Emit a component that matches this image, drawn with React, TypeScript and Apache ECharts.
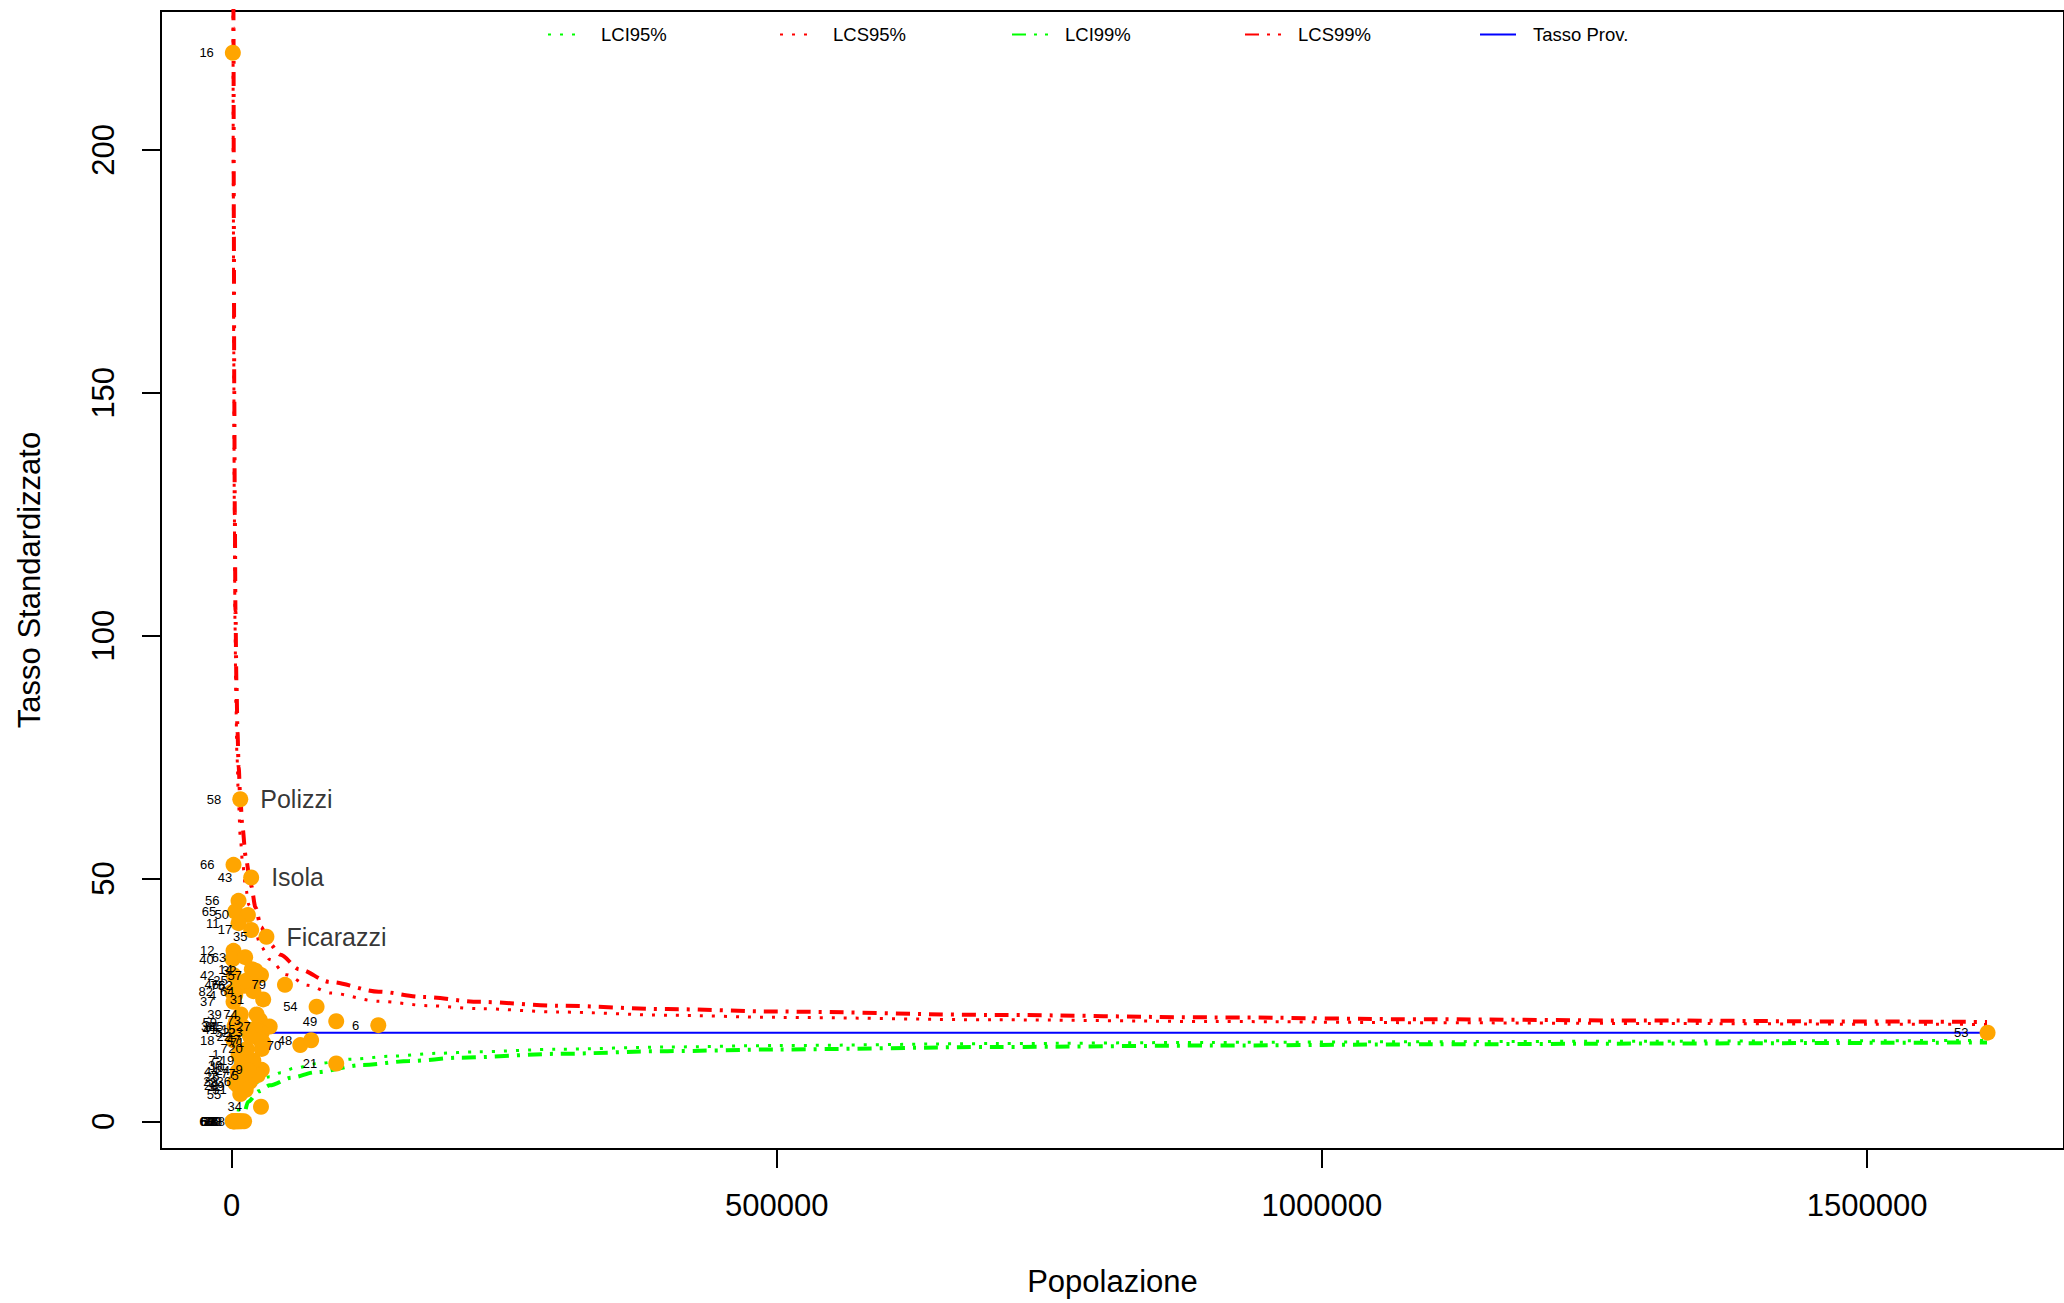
import { useEffect, useRef } from 'react';
import * as echarts from 'echarts';

const FONT = '"Liberation Sans", Arial, Helvetica, sans-serif';

// Comuni: id, popolazione, tasso standardizzato
const comuneId = [
  16, 58, 66, 43, 56, 65, 50, 11, 17, 35,
  12, 40, 63, 14, 57, 79, 42, 46, 75, 62,
  82, 4, 64, 31, 37, 54, 49, 6, 73, 27,
  59, 38, 81, 52, 23, 18, 71, 20, 7, 70,
  48, 21, 1, 72, 10, 9, 5, 36, 29, 69,
  55, 34, 53, 45, 41, 26, 44, 30, 2, 28,
  47, 15, 22, 74, 25, 32, 19, 77, 51, 24,
  39, 60, 61, 68, 67, 3, 13, 33, 76, 80,
  78, 8,
];
const popolazione = [
  1200, 8000, 1800, 18000, 6400, 3400, 15000, 6400, 18000, 32000,
  1800, 1000, 12500, 18600, 27000, 49000, 1800, 5800, 11500, 18600,
  300, 3400, 20000, 29000, 1800, 78000, 96000, 134600, 26000, 35000,
  4000, 2700, 6400, 15600, 27700, 1800, 29000, 27700, 14000, 63000,
  73000, 96000, 6400, 9500, 11000, 27700, 24000, 17000, 4800, 11000,
  8000, 27000, 1610500, 10000, 4000, 6400, 5500, 9000, 3000, 5500,
  26000, 21000, 17000, 23000, 14000, 22000, 20000, 21000, 13000, 16000,
  8500, 1000, 1500, 2000, 2500, 3000, 4000, 5000, 6000, 7500,
  9000, 11500,
];
const tassoStd = [
  220.0, 66.3, 52.8, 50.2, 45.4, 43.2, 42.5, 40.8, 39.4, 38.0,
  35.1, 33.4, 33.8, 31.3, 30.1, 28.1, 30.1, 28.1, 27.9, 27.9,
  26.7, 26.0, 26.8, 25.1, 24.6, 23.6, 20.6, 19.8, 20.8, 19.5,
  20.4, 19.5, 19.6, 18.3, 18.3, 16.7, 16.2, 14.9, 14.9, 15.7,
  16.7, 11.9, 13.7, 12.6, 11.1, 10.6, 9.5, 8.2, 8.2, 7.1,
  5.6, 3.0, 18.25, 19.6, 19.0, 9.2, 10.2, 11.4, 8.0, 7.4,
  16.8, 19.0, 17.5, 22.0, 29.0, 31.0, 12.5, 9.8, 6.5, 10.5,
  22.0, 0, 0, 0, 0, 0, 0, 0, 0, 0,
  0, 0,
];
const nominatiId = [58, 43, 35];
const nominatiNome = ['Polizzi', 'Isola', 'Ficarazzi'];

// Limiti di controllo [popolazione, tasso]
const lcs99: [number, number][] = [
  [1600, 250], [1800, 225], [2100, 185], [2500, 150], [3000, 125], [3600, 105],
  [4500, 90], [5500, 80], [6500, 73], [8000, 66.5], [10000, 60.5], [13000, 54.5],
  [16000, 51], [18000, 48.5], [22000, 44], [27000, 40], [35000, 36.5], [45000, 34.3],
  [62000, 31.3], [90000, 28.7], [135000, 26.7], [175000, 25.6], [227000, 24.6],
  [300000, 23.8], [400000, 23.1], [500000, 22.6], [700000, 21.9], [900000, 21.4],
  [1100000, 21.0], [1300000, 20.75], [1500000, 20.55], [1610000, 20.45],
];
const lcs95: [number, number][] = [
  [1300, 240], [1600, 195], [2000, 160], [2500, 128], [3200, 102], [4000, 86],
  [5000, 75], [6500, 65], [8000, 58.5], [10000, 53.5], [13000, 48], [16000, 44.5],
  [20000, 40.5], [27000, 36], [35000, 33.3], [50000, 30.2], [70000, 28], [91000, 26.4],
  [135000, 24.7], [181000, 23.8], [227000, 23.2], [300000, 22.5], [400000, 21.85],
  [500000, 21.4], [700000, 20.9], [900000, 20.55], [1100000, 20.3], [1300000, 20.15],
  [1500000, 20.0], [1610000, 19.95],
];
const lci95: [number, number][] = [
  [6000, 2.0], [8000, 4.0], [12000, 5.8], [20000, 7.8], [35000, 9.2], [45000, 10.0],
  [57000, 10.9], [79000, 11.9], [111000, 12.8], [146000, 13.4], [190000, 14.0],
  [224000, 14.3], [300000, 14.85], [400000, 15.3], [500000, 15.6], [700000, 16.0],
  [900000, 16.25], [1100000, 16.4], [1300000, 16.5], [1500000, 16.6], [1610000, 16.65],
];
const lci99: [number, number][] = [
  [13000, 2.5], [15000, 4.0], [25000, 6.2], [35000, 7.4], [55000, 9.0], [77000, 10.1],
  [120000, 11.6], [163000, 12.4], [209000, 13.1], [300000, 13.9], [400000, 14.45],
  [500000, 14.8], [700000, 15.3], [900000, 15.6], [1100000, 15.85], [1300000, 16.0],
  [1500000, 16.15], [1610000, 16.25],
];
const tassoProv: [number, number][] = [[500, 18.25], [1610000, 18.25]];

const xTicks = [0, 500000, 1000000, 1500000];
const yTicks = [0, 50, 100, 150, 200];
const legendNames = ['LCI95%', 'LCS95%', 'LCI99%', 'LCS99%', 'Tasso Prov.'];
const legendLeft = [547, 779, 1011, 1244, 1479];

export default function App() {
  const ref = useRef<HTMLDivElement>(null);
  useEffect(() => {
    if (!ref.current) return;
    const chart = echarts.init(ref.current, null, { renderer: 'svg' });

    const punti = comuneId.map((id, i) => ({ name: String(id), value: [popolazione[i], tassoStd[i]] }));
    const nominati = nominatiId.map((id, k) => {
      const i = comuneId.indexOf(id);
      return { name: nominatiNome[k], value: [popolazione[i], tassoStd[i]] };
    });

    const dotted = [3, 9];
    const dotdash = [14, 8, 3, 8];

    const lineSeries = (name: string, data: [number, number][], color: string, width: number, type: any) => ({
      type: 'line',
      name,
      data,
      showSymbol: false,
      symbol: 'none',
      smooth: 0.3,
      smoothMonotone: 'x',
      clip: true,
      lineStyle: { color, width, type, cap: 'butt' },
      itemStyle: { color },
      z: 2,
    });

    const legends = legendNames.map((n, i) => ({
      data: [n],
      left: legendLeft[i],
      top: 25,
      orient: 'horizontal',
      padding: 0,
      itemWidth: 36,
      itemHeight: 18,
      selectedMode: false,
      itemStyle: { opacity: 0 },
      textStyle: {
        fontSize: 18.5,
        color: '#000',
        fontFamily: FONT,
        padding: [0, 0, 0, 12],
      },
    }));

    chart.setOption({
      animation: false,
      backgroundColor: '#ffffff',
      textStyle: { fontFamily: FONT },
      grid: {
        left: 161,
        right: -3,
        top: 11,
        bottom: 154,
        show: true,
        borderColor: '#000',
        borderWidth: 2,
        backgroundColor: 'transparent',
      },
      legend: legends,
      xAxis: {
        type: 'value',
        min: -64700,
        max: 1680600,
        axisLine: { show: true, onZero: false, lineStyle: { color: '#000', width: 2 } },
        axisTick: { show: true, length: 19, customValues: xTicks, lineStyle: { color: '#000', width: 2 } },
        axisLabel: {
          customValues: xTicks,
          formatter: (v: number) => String(v),
          fontSize: 31,
          margin: 41,
          color: '#000',
          fontFamily: FONT,
        },
        splitLine: { show: false },
        name: 'Popolazione',
        nameLocation: 'middle',
        nameGap: 117,
        nameTextStyle: { fontSize: 31, color: '#000', fontFamily: FONT },
      },
      yAxis: {
        type: 'value',
        min: -5.7,
        max: 228.6,
        axisLine: { show: true, onZero: false, lineStyle: { color: '#000', width: 2 } },
        axisTick: { show: true, length: 19, customValues: yTicks, lineStyle: { color: '#000', width: 2 } },
        axisLabel: {
          customValues: yTicks,
          rotate: 90,
          fontSize: 31,
          margin: 42,
          color: '#000',
          fontFamily: FONT,
        },
        splitLine: { show: false },
        name: 'Tasso Standardizzato',
        nameLocation: 'middle',
        nameGap: 116,
        nameTextStyle: { fontSize: 31, color: '#000', fontFamily: FONT },
      },
      series: [
        lineSeries('LCI95%', lci95, '#00FF00', 3, dotted),
        lineSeries('LCS95%', lcs95, '#FF0000', 3, dotted),
        lineSeries('LCI99%', lci99, '#00FF00', 4, dotdash),
        lineSeries('LCS99%', lcs99, '#FF0000', 4, dotdash),
        lineSeries('Tasso Prov.', tassoProv, '#0000FF', 2, 'solid'),
        {
          type: 'scatter',
          name: 'Comuni',
          data: punti,
          symbol: 'circle',
          symbolSize: 16,
          itemStyle: { color: '#FFA500', opacity: 1 },
          label: {
            show: true,
            position: 'left',
            distance: 11,
            formatter: '{b}',
            fontSize: 13,
            color: '#000',
            fontFamily: FONT,
          },
          z: 5,
        },
        {
          type: 'scatter',
          name: 'Nominati',
          data: nominati,
          symbol: 'circle',
          symbolSize: 16,
          itemStyle: { color: 'rgba(0,0,0,0)' },
          label: {
            show: true,
            position: 'right',
            distance: 12,
            formatter: '{b}',
            fontSize: 25,
            color: '#000',
            fontFamily: FONT,
          },
          z: 6,
        },
      ],
    });
    return () => chart.dispose();
  }, []);

  return (
    <div
      ref={ref}
      style={{ position: 'fixed', left: 0, top: 0, width: 2064, height: 1303, background: '#fff' }}
    />
  );
}
